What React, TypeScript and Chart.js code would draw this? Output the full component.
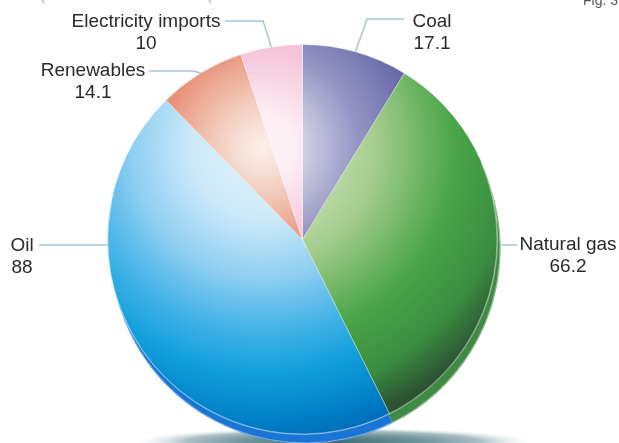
import React, { useEffect, useRef } from "react";
import { Chart, registerables } from "chart.js";
Chart.register(...registerables);

// ---- data ----
const categories = ["Coal", "Natural gas", "Oil", "Renewables", "Electricity imports"];
const values = [17.1, 66.2, 88, 14.1, 10];
const valueLabels = ["17.1", "66.2", "88", "14.1", "10"];

// ---- styles (gradient stops per slice, lit from upper left) ----
const sliceStops: [number, string][][] = [
  [[0, "#eeeef7"], [0.15, "#c8c8e0"], [0.3, "#9494c4"], [0.5, "#6466a6"], [1, "#4a4a90"]],
  [[0, "#e6f2dc"], [0.2, "#c4e0ae"], [0.36, "#a2cc8c"], [0.6, "#4aa548"], [0.78, "#3a8c40"], [0.9, "#2c5432"], [1, "#24482a"]],
  [[0, "#e4f4fc"], [0.22, "#cdeaf9"], [0.4, "#92d0f2"], [0.55, "#4cb6e8"], [0.7, "#12a0dc"], [0.85, "#0080c8"], [1, "#0058a8"]],
  [[0, "#fbefea"], [0.08, "#f6dfd4"], [0.2, "#efbaa6"], [0.32, "#e89078"], [1, "#e07c60"]],
  [[0, "#fdf4f8"], [0.1, "#fceef4"], [0.31, "#f4c4d8"], [1, "#f0b4cc"]],
];
const rimColors = ["#5a5a9c", "#3f8a44", "#1a74d4", "#e08a70", "#f0b8d0"];

// ---- label layout ----
type LabelSpec = { anchor: "mid" | "left" | "right"; path: [number, number][]; x: number; y: number };
const labelLayout: LabelSpec[] = [
  { anchor: "mid", path: [[367, 19], [404, 19]], x: 432, y: 22 },
  { anchor: "right", path: [[517, 245]], x: 568, y: 245 },
  { anchor: "left", path: [[39, 245]], x: 22, y: 246 },
  { anchor: "mid", path: [[193, 71], [149, 71]], x: 93, y: 71 },
  { anchor: "mid", path: [[263, 21], [225, 21]], x: 146, y: 22 },
];

const FONT = "19px 'Liberation Sans', Arial, sans-serif";

const decorPlugin = {
  id: "decor",
  beforeDatasetsDraw(chart: any) {
    const ctx = chart.ctx;
    const meta = chart.getDatasetMeta(0);
    const first = meta.data[0];
    if (!first) return;
    const cx = first.x, cy = first.y, r = first.outerRadius;
    // floor shadow
    ctx.save();
    ctx.translate(cx + 31, cy + r + 7);
    ctx.scale(1, 14 / 196);
    const g = ctx.createRadialGradient(0, 0, 0, 0, 0, 196);
    g.addColorStop(0, "#3d6c75");
    g.addColorStop(0.45, "#6e949a");
    g.addColorStop(0.75, "#a9c0c4");
    g.addColorStop(1, "rgba(225,233,235,0)");
    ctx.fillStyle = g;
    ctx.beginPath();
    ctx.arc(0, 0, 196, 0, Math.PI * 2);
    ctx.fill();
    ctx.restore();
    // rim (side of tilted disk)
    meta.data.forEach((arc: any, i: number) => {
      ctx.save();
      ctx.fillStyle = rimColors[i];
      ctx.beginPath();
      ctx.moveTo(arc.x + 3, arc.y + 9);
      ctx.arc(arc.x + 3, arc.y + 9, arc.outerRadius, arc.startAngle, arc.endAngle);
      ctx.closePath();
      ctx.fill();
      ctx.restore();
    });
    // light line along rim edge
    ctx.save();
    ctx.strokeStyle = "rgba(255,255,255,0.45)";
    ctx.lineWidth = 1;
    ctx.beginPath();
    ctx.arc(cx + 3, cy + 9, r - 0.5, -0.6, Math.PI + 0.4);
    ctx.stroke();
    ctx.restore();
  },
  afterDatasetsDraw(chart: any) {
    const ctx = chart.ctx;
    const meta = chart.getDatasetMeta(0);
    const first = meta.data[0];
    if (!first) return;
    const cx = first.x, cy = first.y, r = first.outerRadius;
    ctx.save();
    ctx.strokeStyle = "rgba(255,255,255,0.35)";
    ctx.lineWidth = 1;
    ctx.beginPath();
    ctx.arc(cx, cy, r - 0.5, -0.4, Math.PI + 0.2);
    ctx.stroke();
    ctx.restore();

    // labels
    ctx.save();
    ctx.font = FONT;
    ctx.fillStyle = "#2b2b2b";
    ctx.textAlign = "center";
    ctx.textBaseline = "middle";
    meta.data.forEach((arc: any, i: number) => {
      const spec = labelLayout[i];
      let ax: number, ay: number;
      if (spec.anchor === "mid") {
        const a = (arc.startAngle + arc.endAngle) / 2;
        ax = cx + r * Math.cos(a);
        ay = cy + r * Math.sin(a);
      } else {
        const py = spec.path[0][1];
        const dx = Math.sqrt(Math.max(r * r - (py - cy) * (py - cy), 0));
        ax = spec.anchor === "left" ? cx - dx : cx + dx + 3;
        ay = py;
      }
      ctx.strokeStyle = "#a6c6d2";
      ctx.lineWidth = 1.5;
      ctx.beginPath();
      ctx.moveTo(ax, ay);
      spec.path.forEach(([px, py]) => ctx.lineTo(px, py));
      ctx.stroke();
      ctx.fillText(categories[i], spec.x, spec.y);
      ctx.fillText(valueLabels[i], spec.x, spec.y + 22);
    });
    // figure tag, clipped at the top
    ctx.font = "14px 'Liberation Sans', Arial, sans-serif";
    ctx.fillStyle = "#555";
    ctx.textAlign = "left";
    ctx.textBaseline = "alphabetic";
    ctx.fillText("Fig. 3", 583, 5);
    // stubs of leader lines from above
    ctx.strokeStyle = "#a6c6d2";
    ctx.lineWidth = 1.5;
    ctx.beginPath();
    ctx.moveTo(42, 0); ctx.lineTo(44, 3);
    ctx.moveTo(209, 0); ctx.lineTo(211, 3);
    ctx.stroke();
    ctx.restore();
  },
};

export default function App() {
  const ref = useRef<HTMLCanvasElement>(null);
  useEffect(() => {
    if (!ref.current) return;
    const chart = new Chart(ref.current, {
      type: "pie",
      data: {
        labels: categories,
        datasets: [
          {
            data: values,
            backgroundColor: (c: any) => {
              const ch = c.chart;
              const area = ch.chartArea;
              const i = c.dataIndex ?? 0;
              if (!area) return sliceStops[i][2][1];
              const cx = (area.left + area.right) / 2;
              const cy = (area.top + area.bottom) / 2;
              const hx = cx - 40, hy = cy - 92;
              const g = ch.ctx.createRadialGradient(hx, hy, 0, hx, hy, 320);
              sliceStops[i].forEach(([p, col]) => g.addColorStop(p, col));
              return g;
            },
            borderColor: "rgba(255,255,255,0.4)",
            borderWidth: 1,
          },
        ],
      },
      options: {
        responsive: false,
        animation: false,
        layout: { padding: { left: 107, right: 121, top: 44, bottom: 8 } },
        plugins: { legend: { display: false }, tooltip: { enabled: false } },
      },
      plugins: [decorPlugin],
    });
    return () => chart.destroy();
  }, []);
  return (
    <div style={{ position: "absolute", left: 0, top: 0, width: 619, height: 443, background: "#fff" }}>
      <canvas ref={ref} width={619} height={443} style={{ display: "block" }} />
    </div>
  );
}
